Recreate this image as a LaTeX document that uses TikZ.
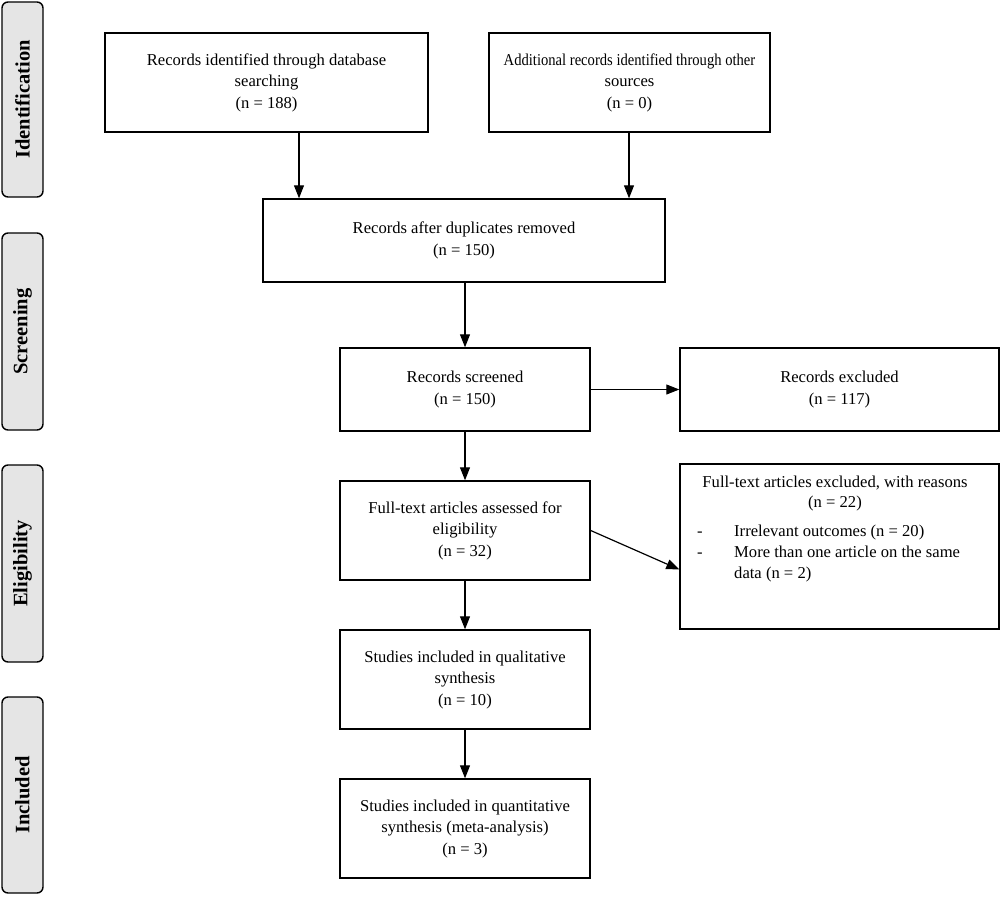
\documentclass[tikz,border=0pt]{standalone}
\usepackage{fontspec}
\setmainfont{Liberation Serif}
\usetikzlibrary{arrows.meta}
\begin{document}
\begin{tikzpicture}[x=1pt,y=-1pt,
  box/.style={draw,line width=1.4pt,rectangle,align=center,inner sep=0pt,
    font=\fontsize{16.6}{21.5}\selectfont},
  side/.style={draw,line width=1.4pt,rectangle,rounded corners=6pt,fill=gray!20,
    font=\fontsize{20.5}{22}\selectfont\bfseries,rotate=90,inner sep=0pt},
  txt/.style={font=\fontsize{16.6}{21.5}\selectfont,inner sep=0pt},
  arr/.style={line width=1.2pt,-{Triangle[length=13pt,width=10pt]}}]
\useasboundingbox (0,0) rectangle (1000,896);
% side labels
\node[side,minimum width=195pt,minimum height=41pt] (sid) at (22.5,99.5) {Identification};
\node[side,minimum width=197pt,minimum height=41pt] (ssc) at (22.5,331.5) {Screening};
\node[side,minimum width=197pt,minimum height=41pt] (sel) at (22.5,563.5) {Eligibility};
\node[side,minimum width=196pt,minimum height=41pt] (sin) at (22.5,795) {Included};
% boxes
\node[box,minimum width=323pt,minimum height=99pt] (b1) at (266.5,82.5) {Records identified through database\\searching\\(n = 188)};
\node[box,minimum width=281pt,minimum height=99pt] (b2) at (629.5,82.5) {\scalebox{0.88}[1]{Additional records identified through other}\\sources\\(n = 0)};
\node[box,minimum width=402pt,minimum height=83pt] (b3) at (464,240.5) {Records after duplicates removed\\(n = 150)};
\node[box,minimum width=250pt,minimum height=83pt] (b4) at (465,389.5) {Records screened\\(n = 150)};
\node[box,minimum width=319pt,minimum height=83pt] (b5) at (839.5,389.5) {Records excluded\\(n = 117)};
\node[box,minimum width=250pt,minimum height=99pt] (b6) at (465,530.5) {Full-text articles assessed for\\eligibility\\(n = 32)};
\node[box,minimum width=319pt,minimum height=165pt] (b7) at (839.5,546.5) {};
\node[box,minimum width=250pt,minimum height=99pt] (b8) at (465,679.5) {Studies included in qualitative\\synthesis\\(n = 10)};
\node[box,minimum width=250pt,minimum height=99pt] (b9) at (465,828.5) {Studies included in quantitative\\synthesis (meta-analysis)\\(n = 3)};
% text inside b7
\node[txt] (t1) at (835,483) {Full-text articles excluded, with reasons};
\node[txt] (t2) at (835,504) {(n = 22)};
\node[txt,anchor=base west] (d1) at (697,536) {-};
\node[txt,anchor=base west] (t3) at (734,536) {Irrelevant outcomes (n = 20)};
\node[txt,anchor=base west] (d2) at (697,557) {-};
\node[txt,anchor=base west] (t4) at (734,557) {More than one article on the same};
\node[txt,anchor=base west] (t5) at (734,578) {data (n = 2)};
% arrows
\draw[arr] (b1.south -| 299,0) -- (b3.north -| 299,0);
\draw[arr] (b2.south -| 629,0) -- (b3.north -| 629,0);
\draw[arr] (b3.south -| b4.north) -- (b4.north);
\draw[arr,line width=0.9pt] (b4.east) -- (b5.west);
\draw[arr] (b4.south) -- (b6.north);
\draw[arr] (b6.east) -- ([yshift=-23pt]b7.west);
\draw[arr] (b6.south) -- (b8.north);
\draw[arr] (b8.south) -- (b9.north);
\end{tikzpicture}
\end{document}
